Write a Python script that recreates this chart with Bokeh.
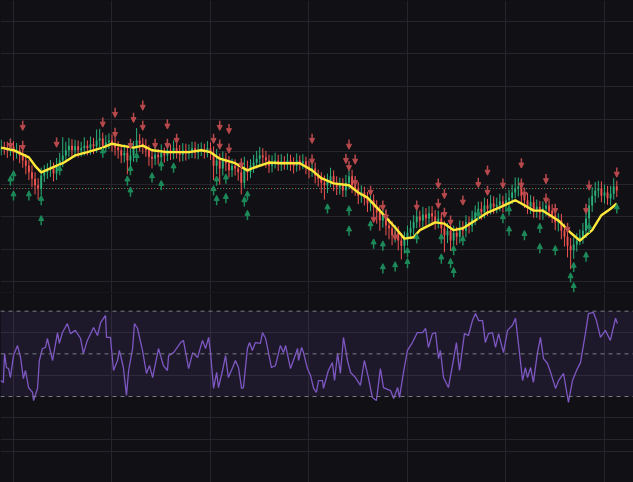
import numpy as np
from bokeh.plotting import figure
from bokeh.models import (ColumnDataSource, Range1d, SingleIntervalTicker, FixedTicker,
                          Grid, Span, BoxAnnotation, Arrow, NormalHead)
from bokeh.layouts import column
from bokeh.embed import file_html
from bokeh.resources import INLINE

# ---------------- data ----------------
first_day = 28  # index of the first bar

close = [100.6,100.5,100.2,100.8,99.8,100.2,99.4,98.6,97.8,96.8,
         95.8,94.8,94.3,96.3,96.8,97.1,97.4,96.6,97.8,98.6,
         99.4,100.2,100.9,100.2,100.8,100.2,100.5,100.9,100.5,101.1,
         100.8,101.7,102.0,100.9,101.4,101.7,101.2,100.6,100.2,99.4,
         99.8,98.6,99.4,100.5,101.7,101.2,100.8,100.2,99.2,98.9,
         99.5,99.1,99.8,99.4,100.2,99.7,100.5,100.0,99.5,100.2,
         99.7,100.0,100.5,99.8,100.2,100.3,100.0,100.5,99.8,97.8,
         98.6,97.4,98.9,98.2,97.1,97.8,97.4,96.8,95.2,97.4,
         96.8,97.8,98.3,98.9,99.4,99.1,98.6,97.8,98.3,98.6,
         98.0,98.5,98.2,98.6,98.3,97.8,98.6,98.2,98.5,97.7,
         97.1,97.4,96.3,95.8,95.2,94.8,95.5,96.2,95.1,94.5,
         94.9,94.0,95.2,96.2,94.8,94.3,93.2,93.7,92.8,92.0,
         92.5,91.4,90.6,89.4,90.2,88.6,88.2,87.1,87.5,86.3,
         85.5,86.6,87.5,88.2,89.1,90.0,89.4,90.3,89.7,90.5,
         90.0,89.1,89.7,88.2,87.1,87.8,86.3,87.5,86.9,88.2,
         87.8,89.1,88.5,89.7,90.6,91.2,90.6,91.7,91.2,92.0,
         91.5,91.8,92.3,91.7,92.5,92.9,93.7,94.3,94.6,93.2,
         92.5,91.5,92.2,90.9,91.5,90.6,91.2,91.7,90.9,90.2,
         89.1,89.4,87.8,86.9,85.5,84.8,85.7,86.3,86.9,87.8,
         89.7,91.7,93.2,94.0,94.3,93.2,93.7,92.8,93.5,94.6,
         94.0]

open_ = [100.3,100.6,100.5,100.2,100.8,99.8,100.2,99.4,98.6,97.8,
         96.8,95.8,94.8,94.3,96.3,96.8,97.1,97.4,96.6,97.8,
         98.6,99.4,100.2,100.9,100.2,100.8,100.2,100.5,100.9,100.5,
         101.1,100.8,101.7,102.0,100.9,101.4,101.7,101.2,100.6,100.2,
         99.4,99.8,98.6,99.4,100.5,101.7,101.2,100.8,100.2,99.2,
         98.9,99.5,99.1,99.8,99.4,100.2,99.7,100.5,100.0,99.5,
         100.2,99.7,100.0,100.5,99.8,100.2,100.3,100.0,100.5,99.8,
         97.8,98.6,97.4,98.9,98.2,97.1,97.8,97.4,96.8,95.2,
         97.4,96.8,97.8,98.3,98.9,99.4,99.1,98.6,97.8,98.3,
         98.6,98.0,98.5,98.2,98.6,98.3,97.8,98.6,98.2,98.5,
         97.7,97.1,97.4,96.3,95.8,95.2,94.8,95.5,96.2,95.1,
         94.5,94.9,94.0,95.2,96.2,94.8,94.3,93.2,93.7,92.8,
         92.0,92.5,91.4,90.6,89.4,90.2,88.6,88.2,87.1,87.5,
         86.3,85.5,86.6,87.5,88.2,89.1,90.0,89.4,90.3,89.7,
         90.5,90.0,89.1,89.7,88.2,87.1,87.8,86.3,87.5,86.9,
         88.2,87.8,89.1,88.5,89.7,90.6,91.2,90.6,91.7,91.2,
         92.0,91.5,91.8,92.3,91.7,92.5,92.9,93.7,94.3,94.6,
         93.2,92.5,91.5,92.2,90.9,91.5,90.6,91.2,91.7,90.9,
         90.2,89.1,89.4,87.8,86.9,85.5,84.8,85.7,86.3,86.9,
         87.8,89.7,91.7,93.2,94.0,94.3,93.2,93.7,92.8,93.5,
         94.6]

high = [101.8,101.5,101.5,102.0,101.6,101.3,101.0,100.5,99.6,98.7,
        97.9,96.8,95.9,97.5,97.9,98.2,98.7,98.3,99.0,99.8,
        102.2,101.5,102.1,101.9,101.8,101.7,101.5,102.2,101.7,102.3,
        102.1,103.4,103.5,102.9,102.5,102.8,102.6,102.1,101.6,101.1,
        101.1,100.9,100.5,101.6,103.6,102.7,102.1,101.9,101.0,100.3,
        100.7,100.4,101.1,100.6,101.4,101.1,101.7,101.4,101.0,101.3,
        101.2,101.1,101.5,101.5,101.2,101.4,101.2,101.6,101.4,100.8,
        100.4,99.7,100.0,99.8,99.3,98.9,98.8,98.2,97.8,99.2,
        98.6,98.8,99.5,100.1,100.7,100.5,100.1,99.5,99.4,99.8,
        99.5,99.6,99.3,99.7,99.5,99.1,99.7,99.4,99.6,99.2,
        98.6,98.4,98.3,97.2,96.8,96.3,96.6,97.5,97.1,96.2,
        96.0,95.9,96.4,97.7,97.2,95.7,95.3,94.8,94.6,93.8,
        93.6,93.4,92.5,91.7,91.5,91.1,89.7,89.3,88.7,88.5,
        87.4,87.7,88.6,89.4,90.2,91.3,90.9,91.5,91.3,91.6,
        91.6,91.0,90.9,90.6,89.3,89.0,88.7,88.6,88.4,89.4,
        89.3,90.2,90.0,90.9,91.7,92.3,92.3,92.9,92.7,93.3,
        93.1,92.9,93.5,93.2,93.6,94.1,94.9,96.0,96.0,95.6,
        94.3,93.6,93.3,93.1,92.6,92.4,92.3,92.8,92.7,91.9,
        91.3,90.5,90.4,88.9,88.0,86.7,86.8,87.4,88.0,89.0,
        90.8,92.9,94.5,95.3,95.5,95.4,94.9,94.7,94.7,95.9,
        95.5]

low = [99.4,99.5,99.0,99.3,98.6,98.9,98.2,97.5,96.5,95.6,
       94.5,93.4,92.6,93.3,95.3,95.8,96.1,95.4,95.6,96.8,
       97.6,98.3,99.2,99.1,99.1,99.1,99.2,99.4,99.4,99.5,
       99.6,99.8,100.6,99.8,99.9,100.4,100.0,99.4,98.9,98.2,
       98.3,96.5,97.5,98.4,98.8,100.0,99.6,99.2,97.8,97.4,
       97.9,98.0,98.2,98.3,98.5,98.7,98.8,98.9,98.4,98.5,
       98.6,98.8,99.0,98.9,98.8,99.3,98.9,99.1,98.7,95.6,
       96.5,94.9,96.3,97.0,96.0,96.1,96.3,95.5,93.4,94.4,
       95.5,95.9,96.7,97.4,97.8,98.1,97.5,96.7,96.8,97.4,
       97.0,97.0,97.2,97.2,97.0,96.6,96.9,97.1,97.3,96.5,
       95.9,96.1,95.1,94.6,93.6,92.6,93.6,94.5,93.9,93.3,
       93.4,93.0,93.0,94.2,93.6,93.2,91.9,92.1,91.7,90.7,
       90.8,90.2,88.9,87.8,88.3,87.1,86.5,85.6,86.0,84.8,
       83.4,84.3,85.5,86.5,87.1,88.2,88.3,88.4,88.6,88.7,
       88.9,88.0,88.2,86.9,84.5,85.9,84.7,85.2,85.6,85.9,
       86.4,86.8,87.4,87.6,88.7,89.7,89.5,89.7,90.1,90.3,
       90.4,90.5,90.8,90.6,90.7,91.6,91.9,92.8,93.1,92.0,
       91.3,90.4,90.4,89.8,89.8,89.5,89.5,90.1,89.8,89.0,
       87.9,87.7,86.5,85.4,83.7,81.9,83.5,84.6,85.6,85.8,
       86.7,88.8,90.7,92.1,92.9,92.2,92.0,91.8,91.7,92.6,
       93.0]

# moving average (bar offset, value)
ma_bar = [0,4,9,11,13,16,20,24,28,33,36,39,43,46,49,54,61,65,68,71,76,80,82,87,91,
          97,101,104,108,113,116,119,123,128,131,134,136,141,144,147,150,154,158,162,
          167,169,173,176,181,185,188,192,195,198,200]
ma_val = [100.6,100.2,99.1,97.8,96.8,97.4,98.2,99.4,99.9,100.6,101.2,100.9,100.6,100.9,
          100.2,99.9,99.9,100.2,99.9,98.9,98.2,97.1,97.5,98.3,98.2,98.2,97.1,95.9,95.1,
          94.8,93.7,92.9,90.9,88.3,86.6,86.8,87.9,89.1,88.9,87.9,88.2,89.4,90.6,91.4,
          92.5,92.0,90.9,90.9,89.4,87.5,86.3,87.9,90.2,91.2,92.0]

# sell signals (down arrows) and buy signals (up arrows)
sell_bar = [3,7,7,18,33,37,37,42,43,46,46,50,54,54,57,69,71,71,74,74,78,101,101,113,112,
            115,113,115,120,124,121,125,128,135,142,144,142,144,146,150,155,158,158,163,
            169,169,170,177,177,180,184,190,191,200]
sell_price = [101.2,104.0,100.9,101.4,104.5,106.0,102.9,101.2,105.2,107.1,104.0,101.2,
              104.2,101.2,102.0,102.0,104.0,101.1,103.5,100.5,98.2,102.0,98.8,101.1,98.9,
              98.8,97.8,95.5,94.0,91.7,89.8,90.2,87.1,91.7,95.1,93.5,92.0,90.6,89.4,92.5,
              95.2,97.1,94.0,95.1,98.2,95.1,93.7,95.8,92.8,91.2,88.3,91.2,94.8,96.8]
buy_bar = [3,4,4,9,13,13,19,33,41,42,42,44,49,52,52,56,69,70,70,73,73,79,80,80,106,113,113,
           120,121,124,124,128,132,132,135,143,143,146,147,147,150,155,163,165,165,170,175,
           175,180,185,186,186,190,191,200]
buy_price = [95.5,96.3,93.2,93.2,92.5,89.4,97.1,99.8,95.5,97.1,93.8,99.1,96.0,97.8,94.8,
             97.5,94.0,95.5,92.5,95.8,92.8,92.3,93.2,90.2,91.2,90.9,87.8,88.6,85.8,85.5,
             82.0,82.3,84.5,82.8,86.6,86.6,83.5,82.8,84.8,81.4,86.3,90.2,89.7,90.9,87.8,
             87.1,88.2,85.1,84.8,80.6,82.2,79.1,83.8,88.2,91.2]

level = 94.3  # dotted price line

# RSI (bar offset, value)
rsi_bar = [-0.2,0.7,1.1,1.7,2.4,3.0,4.0,5.3,6.3,7.2,7.9,8.9,10.2,10.5,11.8,12.4,13.4,14.4,
           15.0,16.7,18.3,18.9,19.9,21.5,22.5,24.1,25.8,26.7,28.0,30.0,31.3,32.3,33.9,34.2,
           35.5,36.5,37.8,38.4,39.7,40.7,41.4,42.7,43.3,44.3,45.9,47.2,48.2,49.2,51.1,52.7,
           54.0,54.4,56.0,58.3,59.2,60.9,62.2,63.8,65.4,66.4,67.4,68.0,69.0,70.0,70.6,71.9,
           72.9,73.8,75.2,76.1,77.1,78.1,78.7,80.0,80.7,81.6,82.6,84.2,84.9,85.9,86.5,87.8,
           89.1,90.7,91.7,92.4,94.0,96.3,96.6,97.6,98.2,99.5,
           100.5,101.5,102.4,103.1,104.4,104.7,106.3,107.6,108.3,109.3,110.2,111.2,112.5,
           113.5,115.1,116.7,118.0,119.3,120.6,121.9,123.2,124.2,126.5,127.5,128.8,129.4,
           130.7,132.0,133.6,135.2,136.9,137.9,138.8,140.1,141.1,142.1,142.7,143.7,145.3,
           146.9,147.9,148.9,150.5,151.8,153.1,154.1,155.1,156.4,157.3,158.3,159.6,160.6,
           161.6,163.2,164.5,166.1,167.1,169.4,170.3,171.0,172.0,172.9,174.2,175.2,176.2,
           177.5,178.5,180.1,181.1,182.7,184.3,185.6,187.2,188.2,189.8,190.8,192.4,193.4,
           194.7,196.3,197.9,199.6,200.2]
rsi_val = [37.5,36.6,50.2,43.6,43.1,38.9,49.2,53.9,48.3,38.4,42.2,34.2,31.9,28.1,33.8,46.9,
           52.5,53.0,57.2,46.9,60.0,54.9,60.0,64.2,59.5,61.0,57.2,50.2,56.3,62.4,58.6,64.7,
           68.0,57.7,57.7,42.2,46.9,51.6,43.6,30.5,42.2,52.5,64.2,61.9,51.6,40.8,44.5,38.9,
           52.5,44.5,42.2,49.2,50.6,55.3,56.3,43.1,50.6,48.3,56.3,52.5,57.7,50.6,33.8,41.3,
           34.2,42.2,49.2,38.9,43.6,46.9,43.6,33.8,34.2,52.5,55.3,51.6,55.3,54.9,60.0,57.2,
           53.0,43.6,44.5,53.9,50.6,53.9,43.1,52.5,46.9,53.0,50.6,43.1,
           39.9,33.8,31.9,37.5,37.5,33.8,42.2,45.9,37.5,50.2,40.8,57.7,46.9,41.3,38.9,35.2,
           46.9,38.9,29.5,28.1,43.1,34.2,32.8,29.1,34.2,29.5,41.3,51.6,55.3,60.0,60.0,61.9,
           53.0,59.5,60.0,47.8,51.6,38.9,34.2,46.9,55.3,42.2,59.5,58.6,65.6,68.9,65.6,65.6,
           55.3,59.5,60.0,53.0,59.5,50.6,61.0,63.4,66.7,37.5,43.6,38.9,43.6,36.6,50.2,57.7,
           47.8,45.5,41.3,33.8,37.5,40.8,27.2,37.5,43.1,45.9,59.5,68.9,69.4,65.6,57.7,61.0,
           56.3,66.7,64.2]
rsi_levels = [70, 50, 30]
rsi_grid = [60, 40, 20, 10, 4]

# ---------------- style ----------------
BG = "#111115"
GRID = "#25252b"
SEP = "#2c2c33"
UP = "#2bb07a"
DOWN = "#ef5350"
UP_ARROW = "#1d8a5a"
DOWN_ARROW = "#b8494c"
MA_COLOR = "#ffe83a"
RSI_COLOR = "#7e57c2"

W = 633
xr = Range1d(27.776, 233.43)

price_fig = figure(width=W, height=293, x_range=xr, y_range=Range1d(78.31, 123.23),
                   output_backend="svg", toolbar_location=None,
                   x_axis_type=None, y_axis_type=None,
                   min_border=0, min_border_left=0, min_border_right=0, min_border_top=0,
                   min_border_bottom=1,
                   background_fill_color=BG, border_fill_color=SEP,
                   outline_line_color=None)
price_fig.add_layout(Grid(dimension=0, ticker=SingleIntervalTicker(interval=32, num_minor_ticks=0),
                          grid_line_color=GRID))
price_fig.add_layout(Grid(dimension=1, ticker=SingleIntervalTicker(interval=5, num_minor_ticks=0),
                          grid_line_color=GRID))

t = first_day + np.arange(len(close))
o = np.array(open_)
c = np.array(close)
src = ColumnDataSource(dict(t=t, high=high, low=low,
                            top=np.maximum(o, c), bottom=np.minimum(o, c),
                            color=np.where(c >= o, UP, DOWN)))

# dotted level line (alternating red / green dots)
price_fig.line(t, [level] * len(t), line_color="#e0605e", line_width=1, line_dash="1 5")
price_fig.line(t, [level] * len(t), line_color="#3fbf85", line_width=1, line_dash="1 5",
               line_dash_offset=3)

price_fig.segment(x0="t", y0="low", x1="t", y1="high", line_color="color", line_width=1, source=src)
price_fig.vbar(x="t", width=0.6, top="top", bottom="bottom", fill_color="color",
               line_color=None, source=src)

price_fig.line(first_day + np.array(ma_bar), ma_val, line_color=MA_COLOR, line_width=2.4,
               line_join="round")

half = 0.75
sb = first_day + np.array(sell_bar)
sp = np.array(sell_price)
price_fig.add_layout(Arrow(end=NormalHead(size=5, fill_color=DOWN_ARROW, line_color=DOWN_ARROW),
                           x_start="x", y_start="y0", x_end="x", y_end="y1",
                           line_color=DOWN_ARROW, line_width=1.5,
                           source=ColumnDataSource(dict(x=sb, y0=sp + half, y1=sp - half))))
bb = first_day + np.array(buy_bar)
bp = np.array(buy_price)
price_fig.add_layout(Arrow(end=NormalHead(size=5, fill_color=UP_ARROW, line_color=UP_ARROW),
                           x_start="x", y_start="y0", x_end="x", y_end="y1",
                           line_color=UP_ARROW, line_width=1.5,
                           source=ColumnDataSource(dict(x=bb, y0=bp - half, y1=bp + half))))

# ---------------- RSI pane ----------------
rsi_fig = figure(width=W, height=189, x_range=xr, y_range=Range1d(-10.3, 78.3),
                 output_backend="svg", toolbar_location=None,
                 x_axis_type=None, y_axis_type=None, min_border=0,
                 background_fill_color=BG, border_fill_color=BG, outline_line_color=None)
rsi_fig.add_layout(Grid(dimension=0, ticker=SingleIntervalTicker(interval=32, num_minor_ticks=0),
                        grid_line_color=GRID))
rsi_fig.add_layout(Grid(dimension=1, ticker=FixedTicker(ticks=rsi_grid), grid_line_color=GRID))
rsi_fig.add_layout(BoxAnnotation(bottom=rsi_levels[2], top=rsi_levels[0], fill_color=RSI_COLOR,
                                 fill_alpha=0.12, line_color=None))
for lv in rsi_levels:
    rsi_fig.add_layout(Span(location=lv, dimension="width", line_color="#7a7a86",
                            line_width=1, line_dash="4 4"))
rsi_fig.line(first_day + np.array(rsi_bar), rsi_val, line_color=RSI_COLOR, line_width=1.3)

p = column(price_fig, rsi_fig, spacing=0)

style = "<style>html,body{margin:0;padding:0;background:#111115;overflow:hidden}</style>"
open("out.html", "w").write(file_html(p, INLINE).replace("</head>", style + "</head>"))
